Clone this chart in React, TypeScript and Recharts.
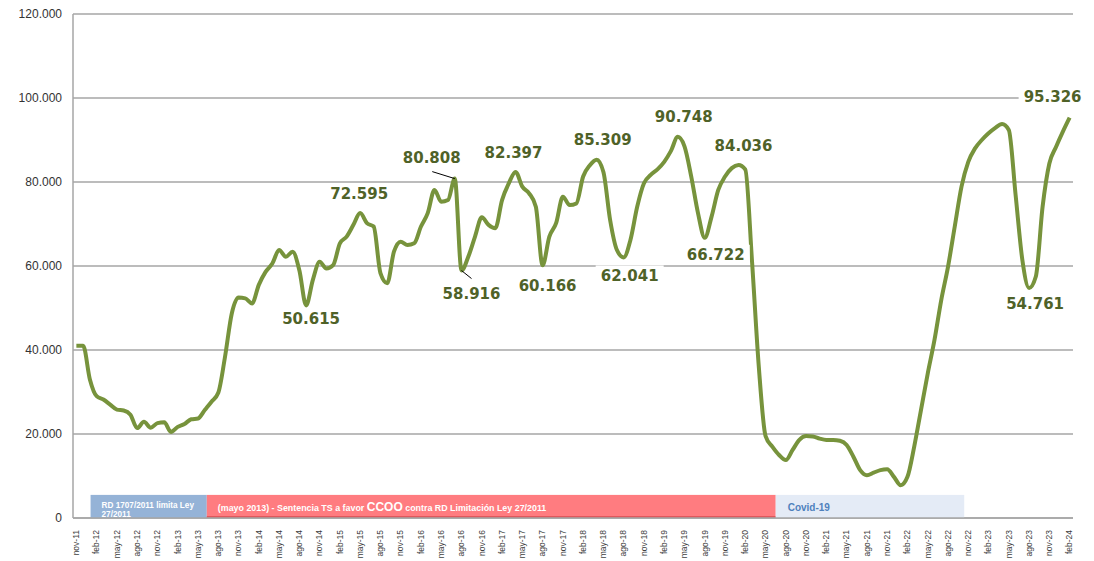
import { LineChart, Line, XAxis, YAxis, CartesianGrid, ReferenceArea, LabelList } from "recharts"

// monthly series, nov-11 .. feb-24
const values = [
    41000, 41000, 33000, 29000, 28200, 27000, 25800, 25600, 24600, 21400,
    22900, 21500, 22600, 22800, 20500, 21700, 22400, 23500, 23700, 25700,
    27700, 29800, 38400, 48700, 52500, 52300, 51100, 55500, 58600, 60600,
    63800, 62200, 63400, 59000, 50615, 56700, 61000, 59400, 60200, 65400,
    67000, 69800, 72595, 70200, 69400, 58300, 55900, 63400, 65800, 65000,
    65400, 69400, 72600, 78100, 75300, 75700, 80808, 58916, 62200, 67000,
    71600, 69800, 69000, 75700, 79700, 82397, 78900, 77300, 74100, 60166,
    67000, 70200, 76500, 74500, 74900, 81300, 84000, 85309, 82400, 70900,
    63800, 62041, 66200, 74100, 79700, 81700, 83000, 84800, 87400, 90748,
    88500, 81300, 72600, 66722, 71700, 78100, 81300, 83300, 84036, 83000,
    61000, 36000, 19500, 17000, 15000, 13800, 16200, 18600, 19500, 19400,
    18900, 18600, 18600, 18400, 17400, 14600, 11400, 10200, 10800, 11400,
    11600, 9800, 7800, 9800, 17000, 25700, 34400, 42400, 51900, 59800,
    69400, 78900, 84800, 88000, 90000, 91600, 92900, 93800, 92400, 77000,
    61500, 54761, 57500, 74100, 84400, 88400, 92000, 95326,
]

const monthNames = ["ene", "feb", "mar", "abr", "may", "jun", "jul", "ago", "sep", "oct", "nov", "dic"]
const months = values.map((_, i) => {
    const m = 10 + i
    return `${monthNames[m % 12]}-${11 + Math.floor(m / 12)}`
})

const yTicks = [0, 20000, 40000, 60000, 80000, 100000, 120000]
const xTicks = months.map((_, i) => i).filter(i => i % 3 === 0)

// annotation bands along the bottom (x in month index)
const periods = [
    { from: 2.1, to: 19.3, fill: "#95B3D7", kind: "rd" },
    { from: 19.3, to: 103.5, fill: "#FF7C80", kind: "ts" },
    { from: 103.5, to: 131.4, fill: "#E4EBF6", kind: "covid" },
]

// data labels: index -> [dx, dy, leader?]
const labelSpots: Record<number, number[]> = {
    34: [5, 13],
    42: [-1, -20],
    56: [-23, -21, -22.5, -7, 0, 0],
    57: [10, 23, 0, 0, 10, 8],
    65: [-2, -19],
    69: [5, 20],
    77: [6, -20],
    81: [6, 18],
    89: [6, -20],
    93: [11, 17],
    98: [5, -20],
    141: [6, 15],
    147: [-17, -21],
}

const data = values.map((v, i) => ({ i, month: months[i], v }))

const fmt = (n: number) => n.toString().replace(/\B(?=(\d{3})+(?!\d))/g, ".")

function MonthTick({ x, y, payload }: any) {
    return (
        <text
            x={x}
            y={y + 4}
            dy="0.33em"
            transform={`rotate(-90, ${x}, ${y + 4})`}
            textAnchor="end"
            fontSize={8.5}
            fontFamily="Liberation Sans, Arial, sans-serif"
            fill="#404040"
        >
            {months[payload.value]}
        </text>
    )
}

function ValueLabel(props: any) {
    const { x, y, index } = props
    const spot = labelSpots[index]
    if (!spot) return null
    const cx = x + spot[0]
    const cy = y + spot[1]
    return (
        <g>
            {spot.length > 2 && (
                <line x1={x + spot[2]} y1={y + spot[3]} x2={x + spot[4]} y2={y + spot[5]} stroke="#000" strokeWidth={1} />
            )}
            <rect x={cx - 34} y={cy - 10} width={68} height={20} fill="#fff" />
            <text
                x={cx}
                y={cy + 5.5}
                textAnchor="middle"
                fontSize={15}
                fontWeight="bold"
                fontFamily="DejaVu Sans, Verdana, sans-serif"
                fill="#4F6228"
            >
                {fmt(values[index])}
            </text>
        </g>
    )
}

function bandShape(kind: string, fill: string) {
    return (p: any) => {
        const { x, y, width, height } = p
        const font = "Liberation Sans, Arial, sans-serif"
        return (
            <g>
                <rect x={x} y={y} width={width} height={height} fill={fill} />
                {kind === "ts" && <rect x={x} y={y + height - 2} width={width} height={2} fill="#E0585C" />}
                {kind === "rd" && (
                    <text x={x + 11} y={y + 13} fontSize={8.2} fontWeight="bold" fontFamily={font} fill="#fff">
                        <tspan x={x + 11}>RD 1707/2011 limita Ley</tspan>
                        <tspan x={x + 11} dy={9.5}>27/2011</tspan>
                    </text>
                )}
                {kind === "ts" && (
                    <text x={x + 11} y={y + 16} fontSize={8.9} fontWeight="bold" fontFamily={font} fill="#fff">
                        (mayo 2013)  -  Sentencia TS a favor <tspan fontSize={12}>CCOO</tspan> contra RD Limitación Ley 27/2011
                    </text>
                )}
                {kind === "covid" && (
                    <text x={x + 12} y={y + 16} fontSize={10} fontWeight="bold" fontFamily={font} fill="#4F81BD">
                        Covid-19
                    </text>
                )}
            </g>
        )
    }
}

export default function App() {
    return (
        <div style={{ position: "absolute", left: 0, top: 0, background: "#fff" }}>
            <LineChart width={1094} height={561} data={data} margin={{ top: 14, right: 21, left: 0, bottom: 0 }}>
                <CartesianGrid vertical={false} stroke="#A6A6A6" strokeWidth={1.5} />
                <XAxis
                    type="number"
                    dataKey="i"
                    domain={[-0.5, 147.5]}
                    ticks={xTicks}
                    interval={0}
                    tick={<MonthTick />}
                    tickLine={false}
                    axisLine={{ stroke: "#A6A6A6", strokeWidth: 1.5 }}
                    height={43}
                />
                <YAxis
                    domain={[0, 120000]}
                    ticks={yTicks}
                    tickFormatter={fmt}
                    tickLine={false}
                    tickMargin={5}
                    axisLine={{ stroke: "#A6A6A6", strokeWidth: 1.5 }}
                    tick={{ fontSize: 12, fill: "#333", fontFamily: "Liberation Sans, Arial, sans-serif" }}
                    width={73}
                />
                {periods.map(p => (
                    <ReferenceArea
                        key={p.kind}
                        x1={p.from}
                        x2={p.to}
                        y1={0}
                        y2={5500}
                        shape={bandShape(p.kind, p.fill)}
                    />
                ))}
                <Line
                    type="monotone"
                    dataKey="v"
                    stroke="#77933C"
                    strokeWidth={4}
                    dot={false}
                    activeDot={false}
                    isAnimationActive={false}
                >
                    <LabelList dataKey="v" content={<ValueLabel />} />
                </Line>
            </LineChart>
        </div>
    )
}
